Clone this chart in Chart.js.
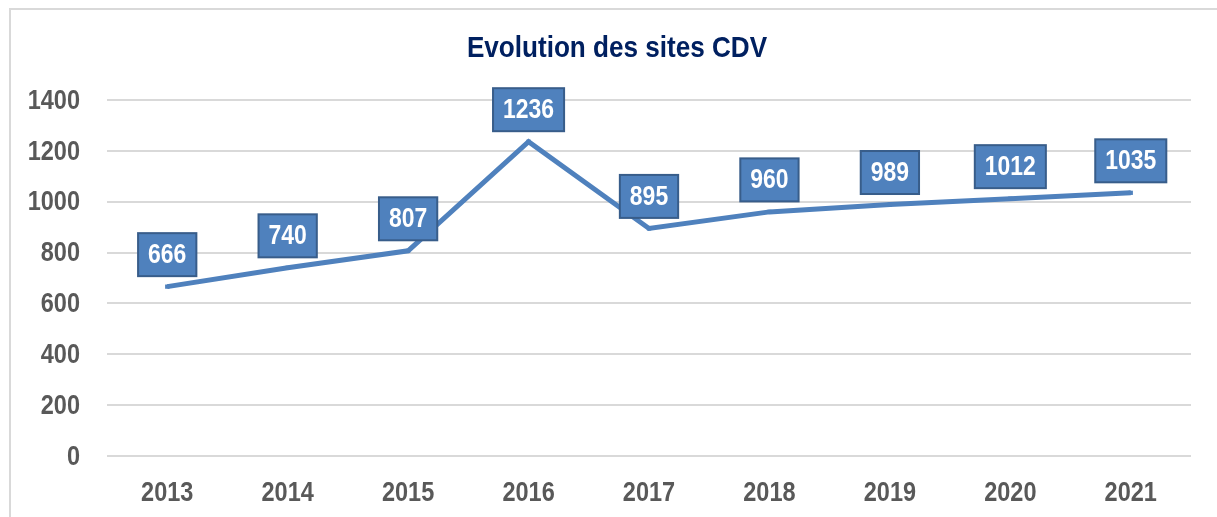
<!DOCTYPE html>
<html>
<head>
<meta charset="utf-8">
<script src="https://cdn.jsdelivr.net/npm/chart.js@4"></script>
<style>
  html, body { margin: 0; padding: 0; background: #fff; }
  #wrap { width: 1217px; height: 517px; position: relative; }
</style>
</head>
<body>
<div id="wrap"><canvas id="grafico" width="1217" height="517"></canvas></div>
<script>
const annees = ['2013', '2014', '2015', '2016', '2017', '2018', '2019', '2020', '2021']
const sites = [666, 740, 807, 1236, 895, 960, 989, 1012, 1035]
const graduations = [0, 200, 400, 600, 800, 1000, 1200, 1400]
const titre = 'Evolution des sites CDV'

const police = "'Liberation Sans', Arial, sans-serif"
const bleu = '#4F81BD'

// pas de police "narrow" installee : on comprime le texte horizontalement
function texteEtroit(c, txt, x, y, sx) {
  c.save()
  c.translate(x, y)
  c.scale(sx, 1)
  c.fillText(txt, 0, 0)
  c.restore()
}

// cadre gris (haut + gauche) comme dans l'original
const cadre = {
  id: 'cadre',
  beforeDraw(chart) {
    const c = chart.ctx
    c.save()
    c.strokeStyle = '#d9d9d9'
    c.lineWidth = 2
    c.beginPath()
    c.moveTo(10, 517)
    c.lineTo(10, 9)
    c.lineTo(1217, 9)
    c.stroke()
    c.restore()
  }
}

// titre + libelles des axes
const textes = {
  id: 'textes',
  afterDraw(chart) {
    const c = chart.ctx
    const sx = chart.scales.x
    const sy = chart.scales.y
    c.save()
    c.textBaseline = 'middle'

    c.fillStyle = '#002060'
    c.textAlign = 'center'
    c.font = 'bold 30px ' + police
    texteEtroit(c, titre, 617, 49, 0.87)

    c.fillStyle = '#595959'
    c.font = 'bold 28px ' + police
    annees.forEach((a, i) => {
      texteEtroit(c, a, sx.getPixelForValue(i), 493, 0.84)
    })
    c.textAlign = 'right'
    graduations.forEach(v => {
      texteEtroit(c, String(v), 80, sy.getPixelForValue(v) + 1, 0.84)
    })
    c.restore()
  }
}

// etiquettes en boite au-dessus des points
const etiquettes = {
  id: 'etiquettes',
  afterDatasetsDraw(chart) {
    const c = chart.ctx
    const meta = chart.getDatasetMeta(0)
    c.save()
    c.font = 'bold 27px ' + police
    c.textAlign = 'center'
    c.textBaseline = 'middle'
    meta.data.forEach((pt, i) => {
      const txt = String(sites[i])
      const w = c.measureText(txt).width * 0.85 + 20
      const h = 43
      const cx = pt.x
      const cy = pt.y - 32
      c.fillStyle = bleu
      c.fillRect(cx - w / 2, cy - h / 2, w, h)
      c.strokeStyle = '#385D8A'
      c.lineWidth = 2
      c.strokeRect(cx - w / 2, cy - h / 2, w, h)
      c.fillStyle = '#fff'
      texteEtroit(c, txt, cx, cy + 1, 0.85)
    })
    c.restore()
  }
}

const ctx = document.getElementById('grafico')

let grafico = new Chart(ctx, {
  type: 'line',
  data: {
    labels: annees,
    datasets: [{
      label: 'Sites CDV',
      data: sites,
      borderColor: bleu,
      backgroundColor: bleu,
      borderWidth: 5,
      tension: 0,
      pointStyle: 'rect',
      pointRadius: 3,
      pointBorderWidth: 0
    }]
  },
  options: {
    responsive: false,
    animation: false,
    layout: { padding: { left: 0, right: 26, top: 100, bottom: 0 } },
    plugins: {
      legend: { display: false },
      tooltip: { enabled: false },
      title: { display: false }
    },
    scales: {
      x: {
        offset: true,
        grid: { display: false, drawTicks: false },
        border: { display: false },
        ticks: { display: false },
        afterFit(s) { s.height = 61 }
      },
      y: {
        min: 0,
        max: 1400,
        grid: { color: '#d9d9d9', lineWidth: 2, drawTicks: false },
        border: { display: false },
        afterBuildTicks(s) { s.ticks = graduations.map(v => ({ value: v })) },
        ticks: { display: false },
        afterFit(s) { s.width = 107 }
      }
    }
  },
  plugins: [cadre, textes, etiquettes]
})
</script>
</body>
</html>
